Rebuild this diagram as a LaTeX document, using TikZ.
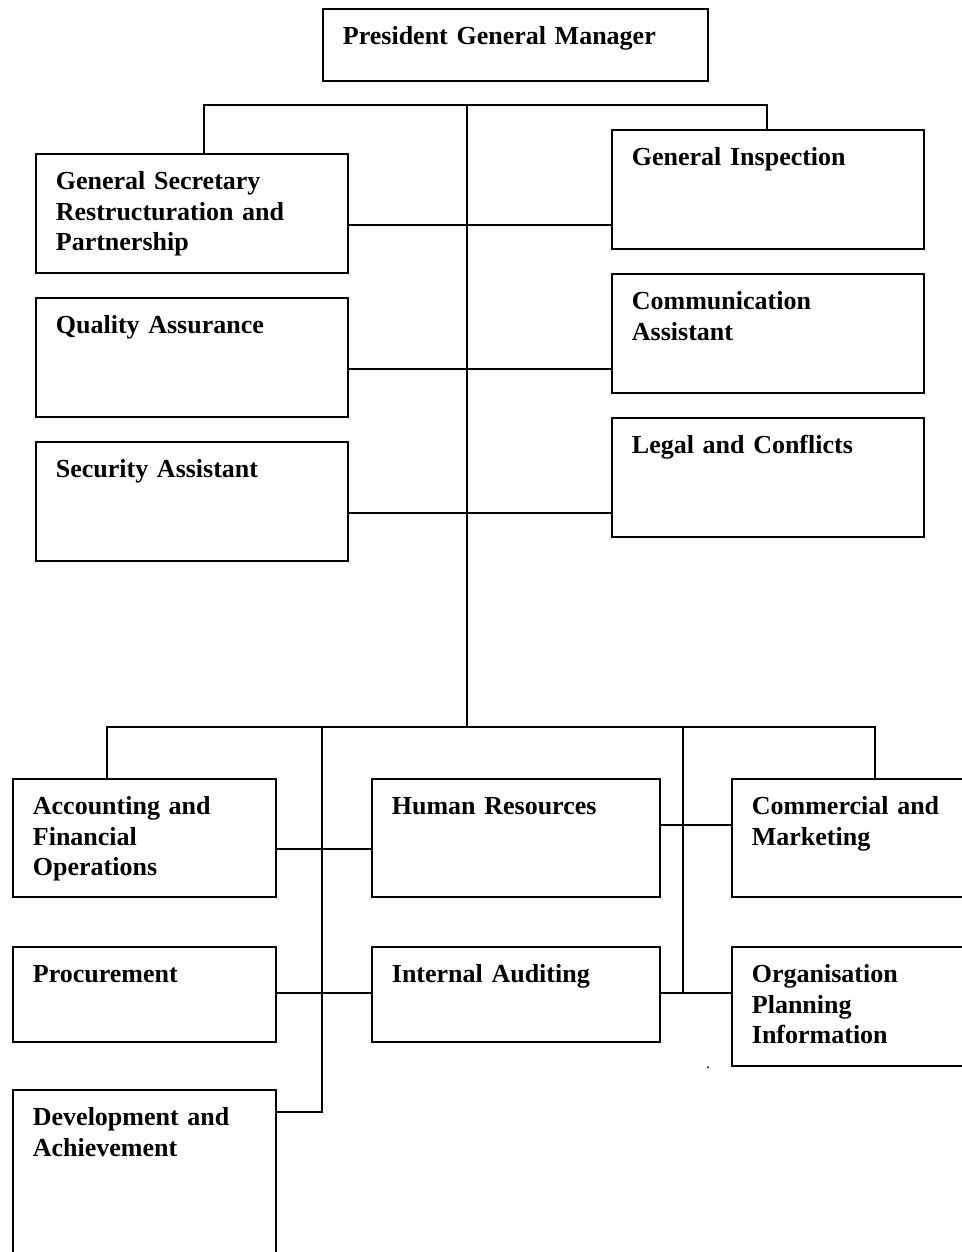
\documentclass[tikz,border=0pt]{standalone}
\usepackage{fontspec}
\setmainfont{Liberation Serif}
\usetikzlibrary{calc,positioning}

\begin{document}
\begin{tikzpicture}[x=1pt, y=-1pt, line width=1.8pt,
    font=\bfseries\fontsize{26}{30.5}\selectfont]
        \tikzset{
          box/.style ={draw, anchor=north west, align=left, inner xsep=20pt, inner ysep=0pt, text height=36pt},
          wide/.style={text width=272pt, text depth=83pt},
          big/.style ={text width=223pt, text depth=82pt},
          mid/.style ={text width=248pt, text depth=82pt},
          low/.style ={text depth=59pt}
        }
        \useasboundingbox (0,0) rectangle (961,1252);
        %% --- Top ---
        \node[box, text width=345pt, text depth=36pt] (pgm) at (322,8) {President General Manager};
        \node[box, wide] (gsrp) at (35,153)  {General Secretary\\Restructuration and\\Partnership};
        \node[box, wide] (gi)   at (611,129) {General Inspection};
        \node[box, wide] (qa)   at (35,297)  {Quality Assurance};
        \node[box, wide] (ca)   at (611,273) {Communication\\Assistant};
        \node[box, wide] (sa)   at (35,441)  {Security Assistant};
        \node[box, wide] (lc)   at (611,417) {Legal and Conflicts};
        \coordinate (jl) at (204,105);
        \coordinate (jt) at (467,105);
        \coordinate (jr) at (767,105);
        \coordinate (t1) at (467,225);
        \coordinate (t2) at (467,369);
        \coordinate (t3) at (467,513);
        \coordinate (jb) at (467,727);
        \draw (gsrp.north -| jl) -- (jl) -- (jr) -- (gi.north -| jr);
        \draw (jt) -- (jb);
        \draw (gsrp.east |- t1) -- (gi.west |- t1);
        \draw (qa.east |- t2) -- (ca.west |- t2);
        \draw (sa.east |- t3) -- (lc.west |- t3);
        %% --- Bottom ---
        \node[box, big]      (afo)  at (12,778)   {Accounting and\\Financial\\Operations};
        \node[box, mid]      (hr)   at (371,778)  {Human Resources};
        \node[box, big]      (cm)   at (731,778)  {Commercial and\\Marketing};
        \node[box, big, low] (proc) at (12,946)   {Procurement};
        \node[box, mid, low] (ia)   at (371,946)  {Internal Auditing};
        \node[box, text width=223pt, text depth=83pt] (opi) at (731,946) {Organisation\\Planning\\Information};
        \node[box, text width=223pt, text depth=164pt] (da) at (12,1089) {Development and\\Achievement};
        \coordinate (bl)  at (107,727);
        \coordinate (bm1) at (322,727);
        \coordinate (bm2) at (683,727);
        \coordinate (br)  at (875,727);
        \coordinate (l1)  at (322,849);
        \coordinate (l2)  at (322,993);
        \coordinate (lv)  at (322,1112);
        \coordinate (r1)  at (683,825);
        \coordinate (rv)  at (683,993);
        \draw (afo.north -| bl) -- (bl) -- (br) -- (cm.north -| br);
        \draw (bm1) -- (lv) -- (da.east |- lv);
        \draw (bm2) -- (rv);
        \draw (afo.east |- l1) -- (hr.west |- l1);
        \draw (proc.east |- l2) -- (ia.west |- l2);
        \draw (hr.east |- r1) -- (cm.west |- r1);
        \draw (ia.east |- rv) -- (opi.west |- rv);
        \node[anchor=base, font=\fontsize{16}{18}\selectfont] (dot) at (708,1068) {.};
\end{tikzpicture}
\end{document}
